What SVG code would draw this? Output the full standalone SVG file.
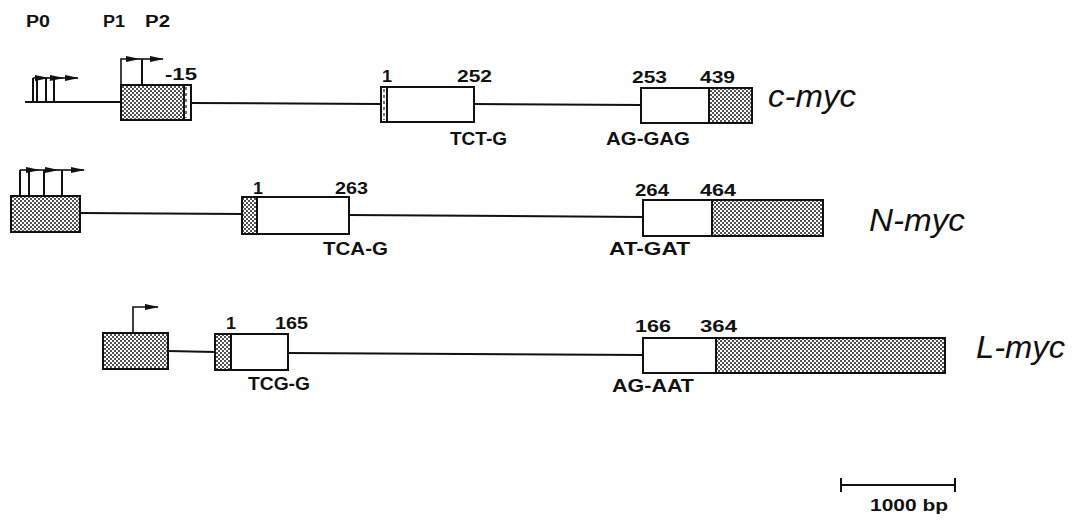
<svg xmlns="http://www.w3.org/2000/svg" width="1090" height="521" viewBox="0 0 1090 521">
<style>
.t{font-family:"Liberation Sans",Arial,sans-serif;font-weight:bold;fill:#111}
.n{font-size:17px}
.s{font-size:18px}
.g{font-family:"Liberation Sans",Arial,sans-serif;font-style:italic;font-size:31px;fill:#111}
.ln{stroke:#111;stroke-width:2;fill:none}
.ex{stroke:#111;stroke-width:2;fill:#fff}
.ht{stroke:#111;stroke-width:2;fill:url(#dots)}
.ar{stroke:#111;stroke-width:1.6;fill:none;marker-end:url(#ah)}
.dash{stroke:#111;stroke-width:1.2;stroke-dasharray:3 3}
</style>
<defs>
<pattern id="dots" width="4" height="4" patternUnits="userSpaceOnUse">
<rect width="4" height="4" fill="#fff"/>
<rect x="0" y="0" width="2" height="2" fill="#333"/>
<rect x="2" y="2" width="2" height="2" fill="#333"/>
<rect x="0.6" y="0.6" width="0.8" height="0.8" fill="#fff"/>
<rect x="2.6" y="2.6" width="0.8" height="0.8" fill="#fff"/>
</pattern>
<marker id="ah" markerWidth="14" markerHeight="7" refX="13" refY="3.5" orient="auto" markerUnits="userSpaceOnUse">
<path d="M0,0.5 L14,3.5 L0,6.5 z" fill="#111"/>
</marker>
</defs>

<rect width="1090" height="521" fill="#fff"/>

<!-- promoter labels -->
<text class="t" x="26" y="27" font-size="16" textLength="24" lengthAdjust="spacingAndGlyphs">P0</text>
<text class="t" x="103" y="27" font-size="16" textLength="22" lengthAdjust="spacingAndGlyphs">P1</text>
<text class="t" x="145" y="27" font-size="16" textLength="25" lengthAdjust="spacingAndGlyphs">P2</text>

<g id="connectors">
<!-- c-myc introns -->
<line class="ln" x1="25" y1="102" x2="121" y2="102"/>
<line class="ln" x1="191" y1="103" x2="381" y2="104"/>
<line class="ln" x1="474" y1="104" x2="641" y2="105"/>
<!-- N-myc introns -->
<line class="ln" x1="80" y1="213" x2="242" y2="214"/>
<line class="ln" x1="349" y1="215" x2="643" y2="217"/>
<!-- L-myc introns -->
<line class="ln" x1="168" y1="351" x2="215" y2="352"/>
<line class="ln" x1="288" y1="353" x2="643" y2="355"/>
</g>

<g id="c-myc-promoters">
<line class="ln" x1="33" y1="102" x2="33" y2="78" stroke-width="1.6"/>
<line class="ln" x1="37" y1="102" x2="37" y2="78" stroke-width="1.6"/>
<line class="ln" x1="46" y1="102" x2="46" y2="78" stroke-width="1.6"/>
<line class="ln" x1="54" y1="102" x2="54" y2="78" stroke-width="1.6"/>
<line class="ar" x1="33" y1="78" x2="48" y2="78"/>
<line class="ar" x1="48" y1="78" x2="63" y2="78"/>
<line class="ar" x1="63" y1="78" x2="78" y2="78"/>
<path class="ar" d="M121,85 V59 H139"/>
<line class="ar" x1="139" y1="59" x2="163" y2="59"/>
<line class="ln" x1="142" y1="59" x2="142" y2="85" stroke-width="1.6"/>
</g>

<g id="c-myc-exon1">
<rect class="ht" x="121" y="85" width="63" height="35"/>
<rect class="ex" x="184" y="85" width="7" height="35"/>
<line class="dash" x1="186" y1="87" x2="186" y2="118"/>
<text class="t n" x="165" y="80" textLength="32" lengthAdjust="spacingAndGlyphs">-15</text>
</g>

<g id="c-myc-exon2">
<rect class="ex" x="381" y="87" width="93" height="35"/>
<line class="ln" x1="387" y1="87" x2="387" y2="122"/>
<line class="dash" x1="384" y1="89" x2="384" y2="120"/>
<text class="t n" x="382" y="82" textLength="10" lengthAdjust="spacingAndGlyphs">1</text>
<text class="t n" x="457" y="82" textLength="35" lengthAdjust="spacingAndGlyphs">252</text>
<text class="t s" x="450" y="145" textLength="57" lengthAdjust="spacingAndGlyphs">TCT-G</text>
</g>

<g id="c-myc-exon3">
<rect class="ex" x="641" y="88" width="68" height="35"/>
<rect class="ht" x="709" y="88" width="43" height="35"/>
<text class="t n" x="632" y="83" textLength="35" lengthAdjust="spacingAndGlyphs">253</text>
<text class="t n" x="700" y="83" textLength="35" lengthAdjust="spacingAndGlyphs">439</text>
<text class="t s" x="606" y="145" textLength="84" lengthAdjust="spacingAndGlyphs">AG-GAG</text>
</g>

<g id="c-myc-label"><text class="g" x="768" y="107" textLength="88" lengthAdjust="spacingAndGlyphs">c-myc</text></g>

<g id="N-myc-exon1">
<line class="ln" x1="20" y1="196" x2="20" y2="170" stroke-width="1.6"/>
<line class="ln" x1="29" y1="196" x2="29" y2="170" stroke-width="1.6"/>
<line class="ln" x1="44" y1="196" x2="44" y2="170" stroke-width="1.6"/>
<line class="ln" x1="62" y1="196" x2="62" y2="170" stroke-width="1.6"/>
<line class="ar" x1="20" y1="170" x2="39" y2="170"/>
<line class="ar" x1="39" y1="170" x2="58" y2="170"/>
<line class="ar" x1="58" y1="170" x2="84" y2="170"/>
<rect class="ht" x="11" y="196" width="69" height="36"/>
</g>

<g id="N-myc-exon2">
<rect class="ex" x="242" y="197" width="107" height="37"/>
<rect class="ht" x="242" y="197" width="15" height="37"/>
<text class="t n" x="253" y="194" textLength="10" lengthAdjust="spacingAndGlyphs">1</text>
<text class="t n" x="335" y="194" textLength="33" lengthAdjust="spacingAndGlyphs">263</text>
<text class="t s" x="323" y="255" textLength="65" lengthAdjust="spacingAndGlyphs">TCA-G</text>
</g>

<g id="N-myc-exon3">
<rect class="ex" x="643" y="200" width="69" height="36"/>
<rect class="ht" x="712" y="200" width="111" height="36"/>
<text class="t n" x="635" y="196" textLength="34" lengthAdjust="spacingAndGlyphs">264</text>
<text class="t n" x="700" y="196" textLength="36" lengthAdjust="spacingAndGlyphs">464</text>
<text class="t s" x="609" y="255" textLength="81" lengthAdjust="spacingAndGlyphs">AT-GAT</text>
</g>

<g id="N-myc-label"><text class="g" x="869" y="231" textLength="96" lengthAdjust="spacingAndGlyphs">N-myc</text></g>

<g id="L-myc-exon1">
<path class="ar" d="M133,333 V307 H158"/>
<rect class="ht" x="103" y="333" width="65" height="36"/>
</g>

<g id="L-myc-exon2">
<rect class="ex" x="215" y="334" width="73" height="36"/>
<rect class="ht" x="215" y="334" width="16" height="36"/>
<text class="t n" x="226" y="329" textLength="10" lengthAdjust="spacingAndGlyphs">1</text>
<text class="t n" x="275" y="329" textLength="33" lengthAdjust="spacingAndGlyphs">165</text>
<text class="t s" x="248" y="390" textLength="62" lengthAdjust="spacingAndGlyphs">TCG-G</text>
</g>

<g id="L-myc-exon3">
<rect class="ex" x="643" y="338" width="73" height="35"/>
<rect class="ht" x="716" y="338" width="229" height="35"/>
<text class="t n" x="635" y="332" textLength="36" lengthAdjust="spacingAndGlyphs">166</text>
<text class="t n" x="700" y="332" textLength="37" lengthAdjust="spacingAndGlyphs">364</text>
<text class="t s" x="612" y="392" textLength="82" lengthAdjust="spacingAndGlyphs">AG-AAT</text>
</g>

<g id="L-myc-label"><text class="g" x="976" y="358" textLength="89" lengthAdjust="spacingAndGlyphs">L-myc</text></g>

<g id="scale-bar">
<line class="ln" x1="841" y1="485" x2="955" y2="485"/>
<line class="ln" x1="841" y1="478" x2="841" y2="492" stroke-width="1.6"/>
<line class="ln" x1="955" y1="478" x2="955" y2="492" stroke-width="1.6"/>
<text class="t" x="870" y="511" font-size="17" textLength="78" lengthAdjust="spacingAndGlyphs">1000 bp</text>
</g>
</svg>
